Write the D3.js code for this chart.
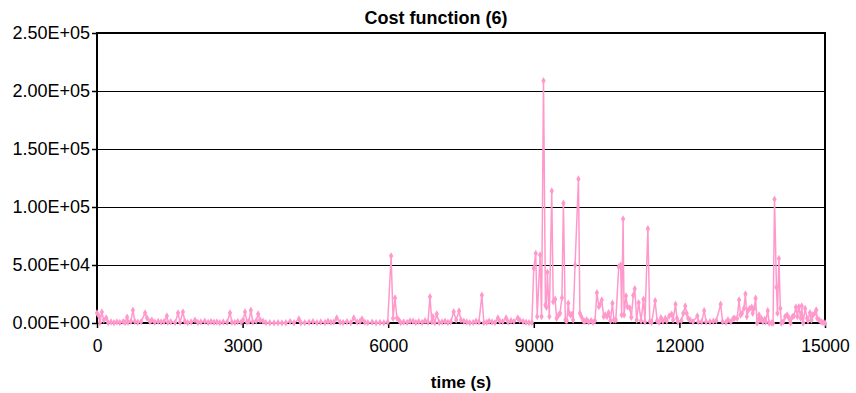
<!DOCTYPE html>
<html>
<head>
<meta charset="utf-8">
<script src="https://cdn.jsdelivr.net/npm/d3@7"></script>
<style>
  body { margin: 0; background: #fff; }
  text { font-family: "Liberation Sans", Arial, Helvetica, sans-serif; }
  .line { fill: none; stroke: #ff99cc; stroke-width: 1.5; }
</style>
</head>
<body>
<div id="graph"></div>
<script>
// chart data
var timeS = [
  0, 40, 60, 100, 140, 190, 230, 290, 350, 410, 470, 540, 580, 620, 640, 700, 740, 780, 840, 910,
  990, 1030, 1090, 1130, 1190, 1260, 1320, 1380, 1440, 1460, 1520, 1610, 1670, 1710, 1770, 1810, 1870, 1940, 2020, 2080,
  2140, 2220, 2290, 2350, 2410, 2470, 2530, 2600, 2680, 2740, 2780, 2840, 2900, 2970, 3010, 3050, 3090, 3130, 3170, 3210,
  3280, 3320, 3360, 3420, 3480, 3560, 3650, 3730, 3810, 3890, 3980, 4060, 4160, 4200, 4280, 4370, 4450, 4530, 4610, 4700,
  4760, 4820, 4880, 4940, 5010, 5070, 5150, 5230, 5290, 5360, 5420, 5460, 5520, 5580, 5670, 5750, 5830, 5910, 5990, 6060,
  6100, 6140, 6180, 6220, 6260, 6320, 6390, 6450, 6510, 6570, 6630, 6700, 6760, 6820, 6860, 6900, 6920, 6960, 7000, 7050,
  7110, 7170, 7230, 7290, 7350, 7400, 7460, 7500, 7560, 7620, 7680, 7750, 7810, 7870, 7930, 7970, 8030, 8080, 8140, 8200,
  8260, 8300, 8360, 8430, 8470, 8530, 8590, 8670, 8710, 8780, 8840, 8900, 8960, 9000, 9040, 9070, 9130, 9160, 9200, 9240,
  9260, 9280, 9320, 9370, 9400, 9440, 9470, 9510, 9540, 9580, 9610, 9650, 9680, 9710, 9730, 9760, 9790, 9810, 9850, 9920,
  9950, 9980, 10020, 10050, 10090, 10130, 10180, 10220, 10260, 10300, 10340, 10360, 10400, 10440, 10470, 10510, 10540, 10580, 10620, 10650,
  10690, 10750, 10790, 10810, 10840, 10860, 10900, 10930, 10980, 11010, 11050, 11080, 11120, 11160, 11210, 11260, 11290, 11350, 11390, 11430,
  11500, 11540, 11580, 11620, 11660, 11710, 11740, 11790, 11840, 11870, 11920, 11950, 11970, 12040, 12080, 12120, 12150, 12180, 12220, 12280,
  12370, 12390, 12460, 12510, 12550, 12630, 12700, 12760, 12850, 12890, 12960, 13000, 13060, 13110, 13140, 13190, 13230, 13260, 13290, 13330,
  13360, 13390, 13420, 13450, 13490, 13510, 13540, 13570, 13600, 13640, 13660, 13690, 13720, 13760, 13780, 13820, 13850, 13900, 13930, 13960,
  14000, 14020, 14050, 14080, 14100, 14140, 14180, 14220, 14260, 14290, 14330, 14360, 14400, 14430, 14460, 14500, 14520, 14550, 14590, 14630,
  14650, 14690, 14720, 14750, 14790, 14820, 14840, 14880, 14920, 14960, 15000
];
var cost = [
  8600, 6000, 500, 9500, 2500, 4300, 300, 800, 200, 900, 400, 1200, 300, 5000, 600, 1500, 11000, 1400, 600, 1000,
  8600, 4300, 1200, 2500, 700, 1400, 800, 1200, 6000, 600, 1000, 400, 8600, 700, 9500, 1500, 300, 800, 2500, 500,
  900, 1500, 400, 1200, 600, 800, 300, 900, 600, 8600, 700, 400, 1200, 600, 2500, 9500, 800, 1500, 11000, 900,
  1800, 7700, 2500, 1500, 300, 200, 100, 200, 100, 200, 1200, 200, 3400, 200, 300, 600, 1200, 300, 800, 500,
  1500, 700, 900, 4300, 600, 400, 1000, 300, 4300, 800, 1500, 3400, 700, 300, 600, 200, 400, 200, 800, 57800,
  4000, 21500, 4300, 2500, 300, 900, 400, 1800, 1500, 500, 1200, 400, 2000, 600, 22600, 1000, 5400, 300, 7700, 400,
  800, 1500, 400, 1000, 9700, 2500, 10300, 2500, 1500, 800, 300, 400, 1500, 800, 24000, 300, 600, 1500, 800, 300,
  4300, 1500, 1200, 4300, 800, 2000, 1200, 4300, 2500, 1200, 600, 300, 400, 47100, 60000, 5500, 58600, 5500, 208900, 15500,
  13500, 43700, 5500, 113800, 18400, 20400, 4000, 6900, 8300, 21800, 103200, 2600, 2000, 17000, 8300, 6900, 7500, 2600, 50000, 124100,
  8300, 5500, 2000, 1500, 2600, 800, 1900, 600, 2000, 26100, 14100, 15500, 19800, 5500, 6900, 5500, 8900, 2000, 17000, 2600,
  2600, 48500, 50000, 7000, 89600, 7000, 23300, 14000, 13000, 5000, 24000, 29600, 2600, 17500, 2000, 20400, 1000, 81300, 1500, 600,
  19200, 2000, 600, 4600, 1500, 4000, 1800, 6000, 7500, 2600, 16100, 4000, 1100, 2000, 8300, 14600, 8300, 4000, 2600, 1100,
  6000, 1100, 1100, 10500, 1100, 1100, 1500, 2000, 16100, 1000, 600, 2600, 1100, 4000, 4000, 4000, 19800, 6900, 8300, 12600,
  25000, 5500, 11200, 12600, 13500, 8300, 12600, 21300, 0, 6900, 2600, 4000, 1100, 3300, 1100, 10600, 0, 0, 0, 106600,
  30800, 8300, 55700, 12600, 0, 1100, 5500, 6900, 4000, 0, 5500, 6000, 13500, 5500, 14100, 4000, 14600, 0, 12600, 4000,
  2000, 8900, 2600, 6900, 8300, 11200, 4000, 2600, 1100, 500, 0
];
var xTicks = [0, 3000, 6000, 9000, 12000, 15000];
var yTicks = [0, 50000, 100000, 150000, 200000, 250000];
var chartTitle = "Cost function (6)";
var xTitle = "time (s)";

// Set the dimensions of the canvas / graph
var margin = { top: 33, right: 31, bottom: 70, left: 97 },
    width = 856 - margin.left - margin.right,
    height = 393 - margin.top - margin.bottom;

var data = timeS.map(function(t, i) { return { t: t, v: cost[i] }; });

var x = d3.scaleLinear().domain([0, 15000]).range([0, width]);
var y = d3.scaleLinear().domain([0, 250000]).range([height, 0]);

var svg = d3.select("#graph")
    .append("svg")
        .attr("width", width + margin.left + margin.right)
        .attr("height", height + margin.top + margin.bottom);

var g = svg.append("g")
    .attr("transform", "translate(" + margin.left + "," + margin.top + ")");

// horizontal gridlines
g.selectAll(".grid")
    .data(yTicks.slice(1, -1))
    .enter().append("line")
        .attr("x1", 0).attr("x2", width)
        .attr("y1", function(d) { return Math.round(y(d)) + 0.5; })
        .attr("y2", function(d) { return Math.round(y(d)) + 0.5; })
        .attr("stroke", "#000").attr("stroke-width", 1);

// Y axis
var yAxis = g.append("g")
    .call(d3.axisLeft(y).tickValues(yTicks).tickSize(5).tickPadding(2)
        .tickFormat(function(d) {
            return d.toExponential(2).toUpperCase().replace("E+", "E+0");
        }));
yAxis.select(".domain").remove();
yAxis.selectAll("text").style("font-size", "18px").attr("fill", "#000");
yAxis.selectAll("line").attr("stroke-width", 1.5);

// X axis
var xAxis = g.append("g")
    .attr("transform", "translate(0," + height + ")")
    .call(d3.axisBottom(x).tickValues(xTicks).tickSize(5).tickPadding(12)
        .tickFormat(d3.format("d")));
xAxis.select(".domain").remove();
xAxis.selectAll("text").style("font-size", "17.5px").attr("fill", "#000");
xAxis.selectAll("line").attr("stroke-width", 1.5);

// plot frame
g.append("rect")
    .attr("x", 0).attr("y", 0)
    .attr("width", width).attr("height", height)
    .attr("fill", "none").attr("stroke", "#000").attr("stroke-width", 2);

// the series line
g.append("path")
    .datum(data)
    .attr("class", "line")
    .attr("d", d3.line()
        .x(function(d) { return x(d.t); })
        .y(function(d) { return y(d.v); }));

// markers
g.selectAll(".pt")
    .data(data)
    .enter().append("path")
        .attr("transform", function(d) { return "translate(" + x(d.t) + "," + y(d.v) + ")"; })
        .attr("d", d3.symbol().type(d3.symbolDiamond).size(16))
        .attr("fill", "#ff99cc");

// title
svg.append("text")
    .attr("x", 436).attr("y", 24)
    .attr("text-anchor", "middle")
    .style("font-size", "18px").style("font-weight", "bold")
    .text(chartTitle);

// x axis title
svg.append("text")
    .attr("x", margin.left + width / 2).attr("y", 388)
    .attr("text-anchor", "middle")
    .style("font-size", "17px").style("font-weight", "bold")
    .text(xTitle);
</script>
</body>
</html>
